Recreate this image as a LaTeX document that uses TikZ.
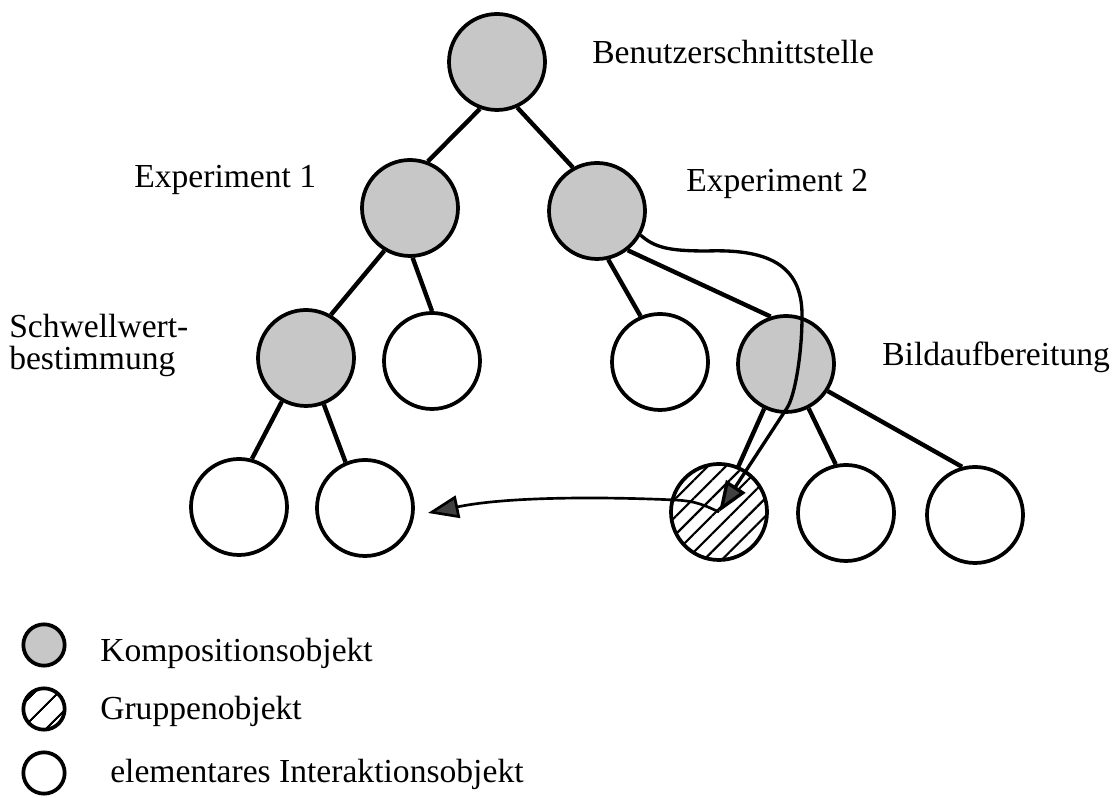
\documentclass[tikz,border=0pt]{standalone}
\usepackage{fontspec}
\setmainfont{Liberation Serif}
\usetikzlibrary{arrows.meta,patterns.meta}

\begin{document}
\begin{tikzpicture}[x=0.75pt,y=0.75pt,
		comp/.style={circle, draw, line width=2.8pt, fill=black!22, minimum size=72pt, inner sep=0pt},
		elem/.style={circle, draw, line width=2.8pt, fill=white, minimum size=72pt, inner sep=0pt},
		grp/.style={circle, draw, line width=2.8pt, minimum size=72pt, inner sep=0pt,
			pattern={Lines[angle=45,distance=9.5pt,line width=1.6pt]}},
		small/.style={minimum size=31pt},
		link/.style={line width=3.3pt},
		flow/.style={line width=2.5pt, -{Triangle[length=23pt,width=17pt,fill=black!75]}},
		lbl/.style={inner sep=0pt, anchor=base west, font=\fontsize{25.2}{24}\selectfont}]
	\useasboundingbox (0,0) rectangle (1117,798);

	% tree
	\draw node[comp] (1) at (497,736) {};
	\draw node[comp] (2) at (410,590) {};
	\draw node[comp] (3) at (597,587) {};
	\draw node[comp] (4) at (306,440) {};
	\draw node[elem] (5) at (432,437) {};
	\draw node[elem] (6) at (660,436) {};
	\draw node[comp] (7) at (786,434) {};
	\draw node[elem] (8) at (239,291) {};
	\draw node[elem] (9) at (365,290) {};
	\draw node[grp] (10) at (719,286) {};
	\draw node[elem] (11) at (846,285) {};
	\draw node[elem] (12) at (975,283) {};

	\draw[link] (1.-110) -- (2.69);
	\draw[link] (1.-66) -- (3.119);
	\draw[link] (2.-121) -- (4.60);
	\draw[link] (2.-87) -- (5.90);
	\draw[link] (3.-77) -- (6.113);
	\draw[link] (3.-52) -- (7.108);
	\draw[link] (4.-119) -- (8.75);
	\draw[link] (4.-69) -- (9.113);
	\draw[link] (7.-116) -- (10.67);
	\draw[link] (7.-63) -- (11.102);
	\draw[link] (7.-33) -- (12.105);

	% labels
	\draw node[lbl] (l1) at (592,734) {Benutzerschnittstelle};
	\draw node[lbl] (l2) at (134,610) {Experiment 1};
	\draw node[lbl] (l3) at (686,606) {Experiment 2};
	\draw node[lbl, align=left] (l4) at (9,428) {Schwellwert-\\bestimmung};
	\draw node[lbl] (l7) at (882,432) {Bildaufbereitung};

	% message paths
	\coordinate (tip) at (428,285);
	\draw[flow] (3.-29) .. controls (655,550) and (670,547) .. (707,547)
		.. controls (765,549) and (803,535) .. (802,481)
		.. controls (802,445) and (795,402) .. (787,390) -- (10.center);
	\draw[flow, line width=2pt] (10.center) .. controls (706,292) and (697,297) .. (675,298)
		.. controls (610,301) and (510,302) .. (tip);

	% legend
	\draw node[comp, small] (k) at (44,153) {};
	\draw node[grp, small, pattern={Lines[angle=45,distance=13pt,line width=1.6pt]}] (g) at (44,89) {};
	\draw node[elem, small] (e) at (44,25) {};
	\draw node[lbl] (lk) at (100,136) {Kompositionsobjekt};
	\draw node[lbl] (lg) at (100,78) {Gruppenobjekt};
	\draw node[lbl] (le) at (110,15) {elementares Interaktionsobjekt};
\end{tikzpicture}
\end{document}
